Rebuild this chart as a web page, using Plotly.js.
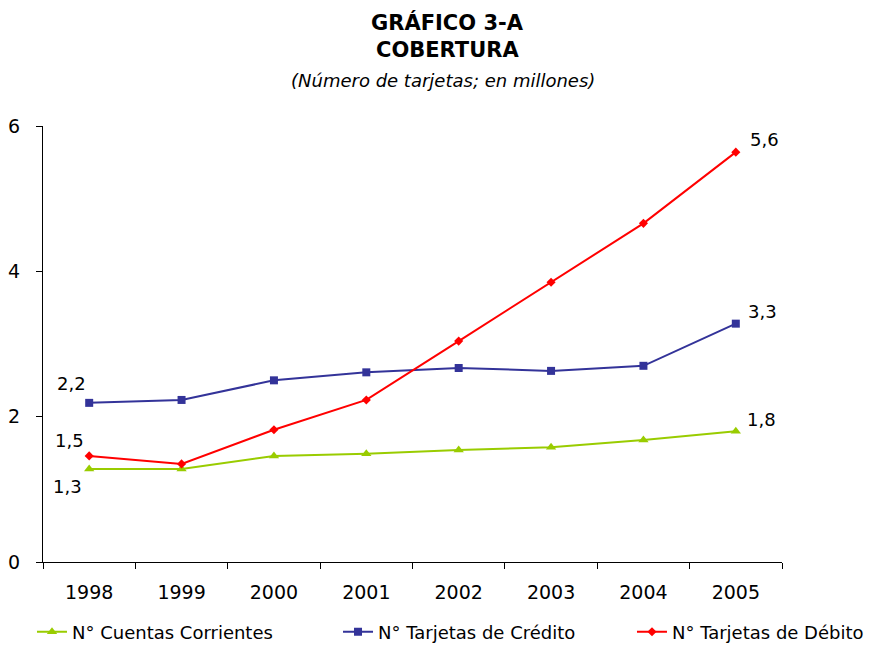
<!DOCTYPE html>
<html>
<head>
<meta charset="utf-8">
<script src="https://cdn.plot.ly/plotly-3.0.1.min.js"></script>
<style>html,body{margin:0;padding:0;background:#fff;}#chart{width:876px;height:645px;}</style>
</head>
<body>
<div id="chart"></div>
<script>
const years = ['1998','1999','2000','2001','2002','2003','2004','2005'];
const cuentasCorrientes = [1.28, 1.28, 1.46, 1.49, 1.54, 1.58, 1.68, 1.80];
const tarjetasCredito = [2.19, 2.23, 2.50, 2.61, 2.67, 2.63, 2.70, 3.28];
const tarjetasDebito = [1.46, 1.35, 1.82, 2.23, 3.04, 3.85, 4.66, 5.64];
const seriesNames = ['N° Cuentas Corrientes', 'N° Tarjetas de Crédito', 'N° Tarjetas de Débito'];
const yTicks = [0, 2, 4, 6];

const font = 'DejaVu Sans, Liberation Sans, Arial, sans-serif';
const fmt = v => v.toFixed(1).replace('.', ',');

const traces = [
  {x: years, y: cuentasCorrientes, name: seriesNames[0], mode: 'lines+markers', legend: 'legend',
   line: {color: '#99CC00', width: 2}, marker: {symbol: 'triangle-up', size: 9, color: '#99CC00'}},
  {x: years, y: tarjetasCredito, name: seriesNames[1], mode: 'lines+markers', legend: 'legend2',
   line: {color: '#333399', width: 2}, marker: {symbol: 'square', size: 8, color: '#333399'}},
  {x: years, y: tarjetasDebito, name: seriesNames[2], mode: 'lines+markers', legend: 'legend3',
   line: {color: '#FF0000', width: 2}, marker: {symbol: 'diamond', size: 7, color: '#FF0000'}}
];

const last = years.length - 1;
const lab = (i, y, xs, ys) => ({x: i, y: y, xref: 'x', yref: 'y', text: fmt(y), showarrow: false,
  xanchor: 'center', yanchor: 'middle',
  xshift: xs, yshift: ys, font: {family: font, size: 18, color: '#000'}});

const annotations = [
  lab(0, tarjetasCredito[0], -18, 19),
  lab(0, tarjetasDebito[0], -20, 15),
  lab(0, cuentasCorrientes[0], -22, -18),
  lab(last, tarjetasDebito[last], 29, 13),
  lab(last, tarjetasCredito[last], 27, 12),
  lab(last, cuentasCorrientes[last], 26, 12),
  {text: '<b>GRÁFICO 3-A</b>', xref: 'paper', yref: 'paper', x: 0.5467, y: 1.2385, showarrow: false,
   xanchor: 'center', yanchor: 'middle', font: {family: font, size: 21, color: '#000'}},
  {text: '<b>COBERTURA</b>', xref: 'paper', yref: 'paper', x: 0.5467, y: 1.174, showarrow: false,
   xanchor: 'center', yanchor: 'middle', font: {family: font, size: 21, color: '#000'}},
  {text: '<i>(Número de tarjetas; en millones)</i>', xref: 'paper', yref: 'paper', x: 0.5413, y: 1.1055, showarrow: false,
   xanchor: 'center', yanchor: 'middle', font: {family: font, size: 18, color: '#000'}}
];

const legendBase = {orientation: 'h', xref: 'paper', yref: 'container', y: 0.02, yanchor: 'middle', xanchor: 'left',
  font: {family: font, size: 18, color: '#000'}, itemwidth: 30, bgcolor: 'rgba(0,0,0,0)'};

const layout = {
  width: 876, height: 645,
  margin: {l: 43, r: 94, t: 126, b: 83},
  paper_bgcolor: '#fff', plot_bgcolor: '#fff',
  font: {family: font, size: 18, color: '#000'},
  showlegend: true,
  legend: Object.assign({}, legendBase, {x: -0.0149}),
  legend2: Object.assign({}, legendBase, {x: 0.3992}),
  legend3: Object.assign({}, legendBase, {x: 0.797}),
  xaxis: {type: 'category', range: [-0.5, 7.5], showgrid: false, zeroline: false, automargin: false,
    showline: true, linecolor: '#000', linewidth: 1, ticks: 'outside', tickson: 'boundaries',
    ticklen: 6, tickcolor: '#000', ticklabelstandoff: 13,
    tickfont: {family: font, size: 19, color: '#000'}, fixedrange: true},
  yaxis: {range: [0, 6], tickvals: yTicks, ticktext: yTicks.map(String), showgrid: false, zeroline: false, automargin: false,
    showline: true, linecolor: '#000', linewidth: 1, ticks: 'outside', ticklen: 6, tickcolor: '#000',
    ticklabelstandoff: 12,
    tickfont: {family: font, size: 19, color: '#000'}, fixedrange: true},
  annotations: annotations
};

Plotly.newPlot('chart', traces, layout, {displayModeBar: false, staticPlot: true});
</script>
</body>
</html>
